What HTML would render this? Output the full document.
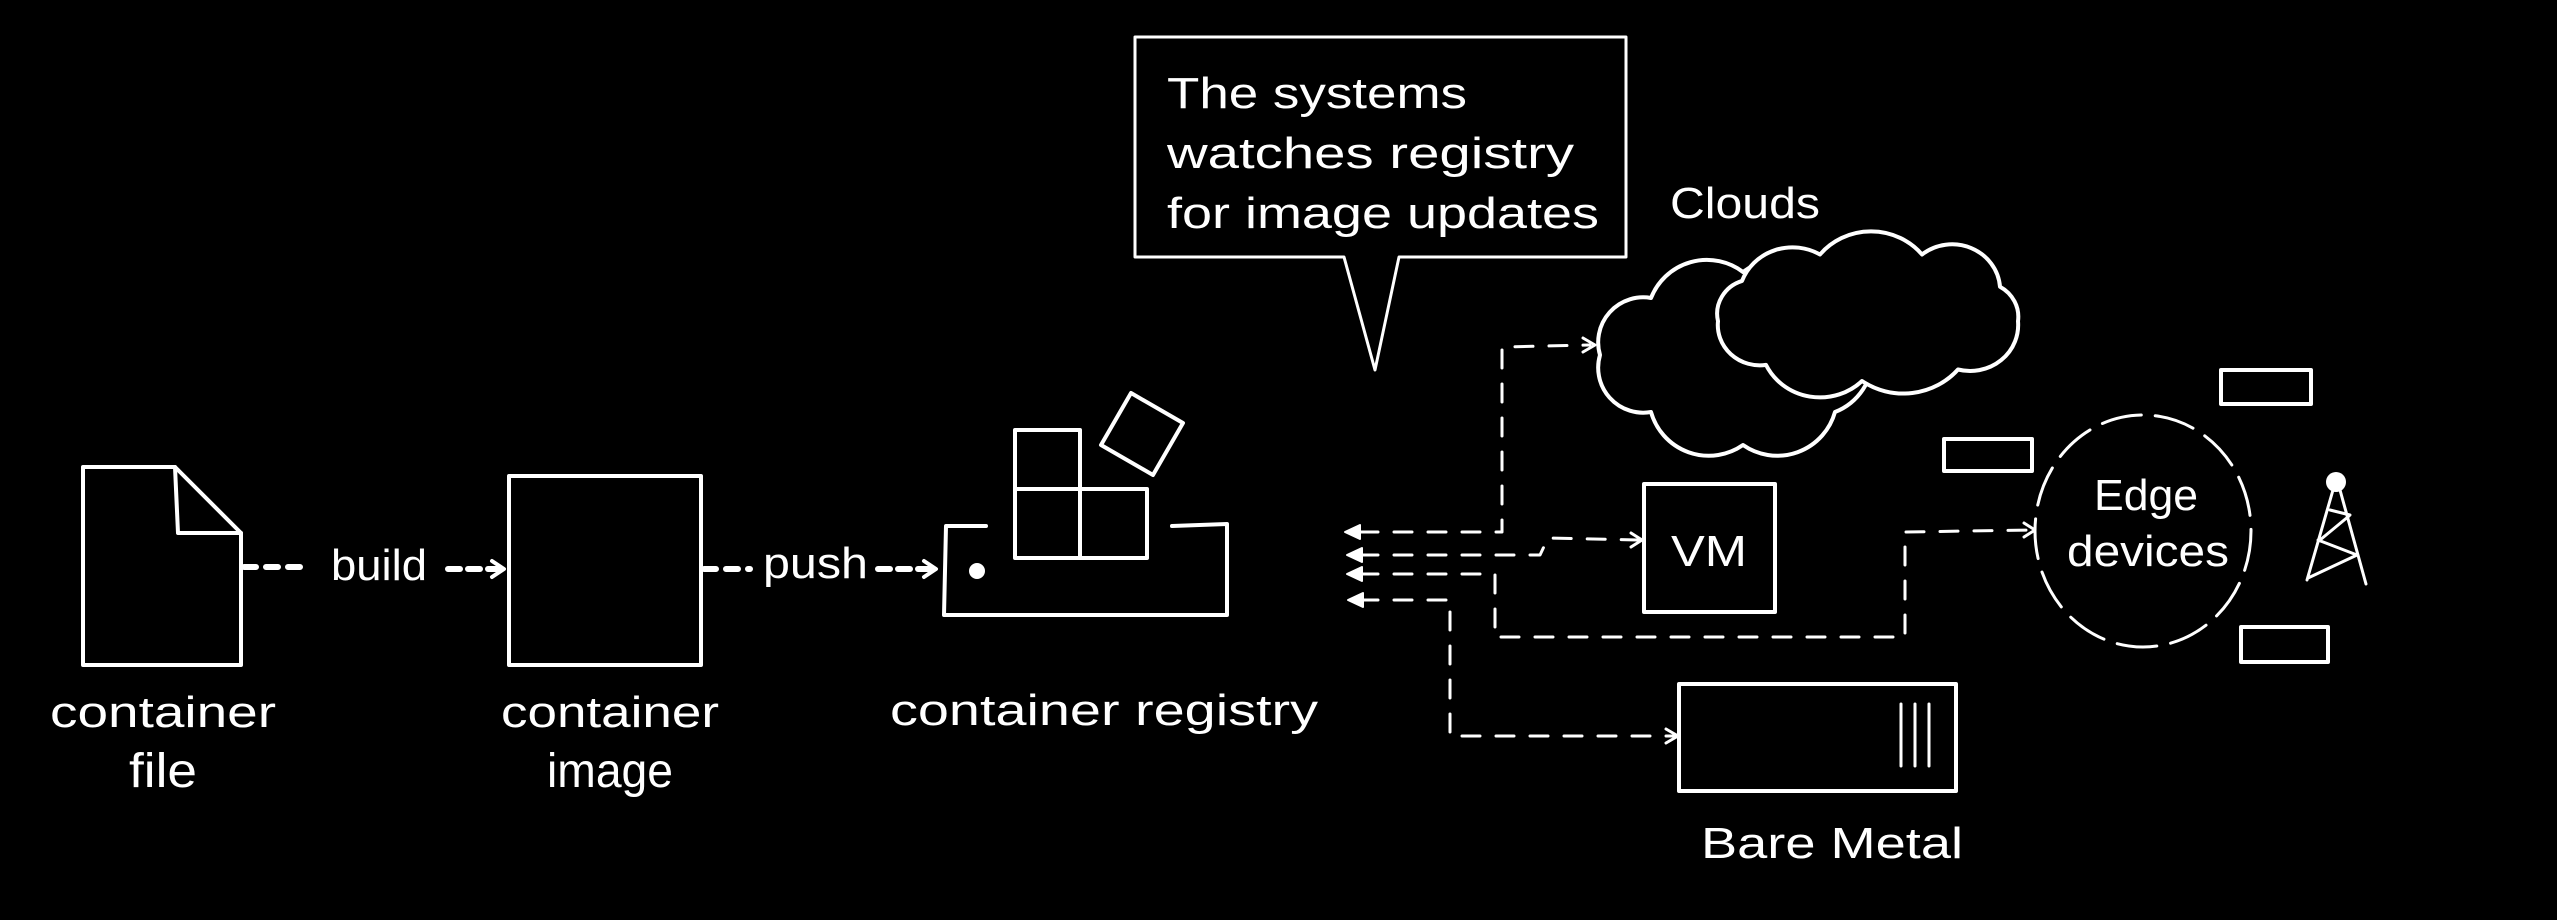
<!DOCTYPE html>
<html><head><meta charset="utf-8"><style>
html,body{margin:0;padding:0;background:#000;}
svg{display:block}
text{fill:#fff;font-family:"Liberation Sans",sans-serif;}
</style></head><body>
<svg width="2557" height="920" viewBox="0 0 2557 920" xmlns="http://www.w3.org/2000/svg">
<rect width="2557" height="920" fill="#000"/>
<g fill="none" stroke="#fff" stroke-width="4" stroke-linecap="round" stroke-linejoin="round">
<!-- container file -->
<path d="M83,467 L175,467 L241,533 L241,665 L83,665 Z"/>
<path d="M175,467 L178,533 L241,533"/>
<!-- build arrow -->
<path d="M244,567 L300,567" stroke-dasharray="12,10" stroke-width="6"/>
<path d="M448,569 L500,569" stroke-dasharray="12,8" stroke-width="6"/>
<path d="M492,561 L504,569 L492,577"/>
<!-- container image -->
<rect x="509" y="476" width="192" height="189"/>
<!-- push arrow -->
<path d="M704,569 L750,569" stroke-dasharray="12,10" stroke-width="6"/>
<path d="M878,569 L930,569" stroke-dasharray="12,8" stroke-width="6"/>
<path d="M924,561 L936,569 L924,577"/>
<!-- registry tray -->
<path d="M986,526 L946,526 L944,615 L1227,615 L1227,524 L1172,526"/>
<circle cx="977" cy="571" r="6" fill="#fff"/>
<rect x="1015" y="489" width="65" height="69"/>
<rect x="1080" y="489" width="67" height="69"/>
<rect x="1015" y="430" width="65" height="59"/>
<rect x="1112" y="404" width="60" height="60" transform="rotate(30 1142 434)"/>
<!-- speech bubble -->
<path d="M1135,37 L1626,37 L1626,257 L1399,257 L1375,370 L1344,257 L1135,257 Z" stroke-width="3"/>
<!-- VM -->
<rect x="1644" y="484" width="131" height="128"/>
<!-- bare metal -->
<rect x="1679" y="684" width="277" height="107"/>
<path d="M1901,704 L1901,766 M1915,704 L1915,766 M1929,704 L1929,766" stroke-width="3"/>
<!-- clouds -->
<path fill="#000" d="M1873,355 A60,60 0 0 1 1835,412 A60,60 0 0 1 1743,445 A60,60 0 0 1 1651,412 A45,45 0 0 1 1600,355 A45,45 0 0 1 1651,298 A60,60 0 0 1 1743,272 A60,60 0 0 1 1835,298 A45,45 0 0 1 1873,355 Z"/>
<path fill="#000" vector-effect="non-scaling-stroke" transform="translate(1868,312) scale(1.2,1.15) translate(-1865,-312)" d="M1990,320 A40,40 0 0 1 1940,362 A60,60 0 0 1 1860,372 A50,50 0 0 1 1780,358 A35,35 0 0 1 1740,320 A30,30 0 0 1 1760,285 A45,45 0 0 1 1825,262 A55,55 0 0 1 1910,262 A40,40 0 0 1 1975,290 A30,30 0 0 1 1990,320 Z"/>
<!-- edge devices -->
<ellipse cx="2143" cy="531" rx="108" ry="116" stroke-dasharray="40,14" stroke-width="3"/>
<rect x="2221" y="370" width="90" height="34"/>
<rect x="1944" y="439" width="88" height="32"/>
<rect x="2241" y="627" width="87" height="35"/>
<circle cx="2336" cy="482" r="10" fill="#fff" stroke="none"/>
<path d="M2333,490 L2307,580 M2340,490 L2366,584 M2330,510 L2350,515 M2349,516 L2320,540 M2318,540 L2357,555 M2357,555 L2308,578" stroke-width="3"/>
<!-- connectors -->
<g stroke-dasharray="18,16" stroke-width="3">
<path d="M1360,532 L1502,532 L1502,347 L1590,345"/>
<path d="M1360,555 L1540,555 L1548,538 L1638,540"/>
<path d="M1360,574 L1495,574 L1495,637 L1905,637 L1905,532 L2030,530"/>
<path d="M1360,600 L1450,600 L1450,736 L1675,736"/>
</g>
<g fill="#fff" stroke-width="2">
<path d="M1345,532 L1360,525 L1360,539 Z"/>
<path d="M1347,555 L1362,548 L1362,562 Z"/>
<path d="M1347,574 L1362,567 L1362,581 Z"/>
<path d="M1348,600 L1363,593 L1363,607 Z"/>
</g>
<path d="M1583,338 L1595,345 L1583,352 M1631,533 L1642,540 L1631,547 M2024,523 L2035,530 L2024,537 M1666,729 L1678,736 L1666,743" stroke-width="3"/>
</g>
<g font-size="44">
<text x="163" y="727" text-anchor="middle" textLength="226" lengthAdjust="spacingAndGlyphs">container</text>
<text x="163" y="787" text-anchor="middle" font-size="48" textLength="68" lengthAdjust="spacingAndGlyphs">file</text>
<text x="610" y="727" text-anchor="middle" textLength="218" lengthAdjust="spacingAndGlyphs">container</text>
<text x="610" y="787" text-anchor="middle" font-size="48" textLength="126" lengthAdjust="spacingAndGlyphs">image</text>
<text x="1104" y="725" text-anchor="middle" textLength="428" lengthAdjust="spacingAndGlyphs">container registry</text>
<text x="331" y="580" textLength="96" lengthAdjust="spacingAndGlyphs">build</text>
<text x="763" y="578" textLength="105" lengthAdjust="spacingAndGlyphs">push</text>
<text x="1167" y="108" textLength="300" lengthAdjust="spacingAndGlyphs">The systems</text>
<text x="1167" y="168" textLength="407" lengthAdjust="spacingAndGlyphs">watches registry</text>
<text x="1167" y="228" textLength="432" lengthAdjust="spacingAndGlyphs">for image updates</text>
<text x="1670" y="218" textLength="150" lengthAdjust="spacingAndGlyphs">Clouds</text>
<text x="1709" y="566" text-anchor="middle" textLength="76" lengthAdjust="spacingAndGlyphs">VM</text>
<text x="2146" y="510" text-anchor="middle" textLength="104" lengthAdjust="spacingAndGlyphs">Edge</text>
<text x="2148" y="566" text-anchor="middle" textLength="162" lengthAdjust="spacingAndGlyphs">devices</text>
<text x="1832" y="858" text-anchor="middle" textLength="262" lengthAdjust="spacingAndGlyphs">Bare Metal</text>
</g>
</svg>
</body></html>
